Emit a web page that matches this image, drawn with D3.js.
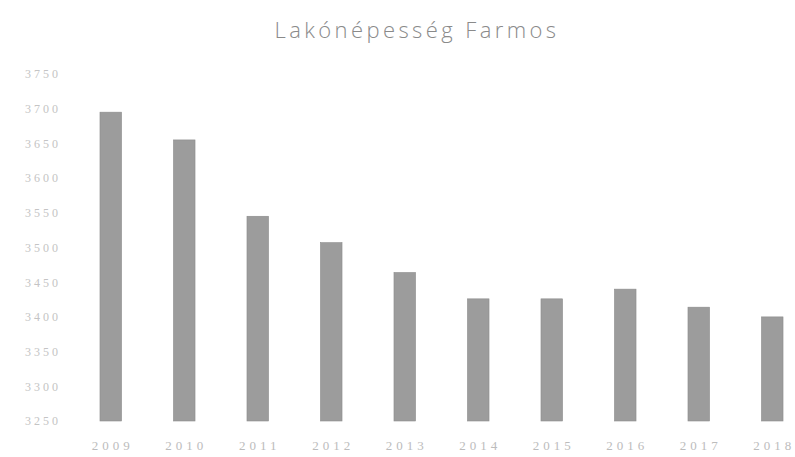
<!DOCTYPE html>
<html>
<head>
<meta charset="utf-8">
<script src="https://cdn.jsdelivr.net/npm/d3@7"></script>
<style>
  body { margin: 0; background: #fff; }
  svg { display: block; }
</style>
</head>
<body>
<svg></svg>
<script>
var screen = {width: 795, height: 457}
var margins = {top: 74, bottom: 36, left: 74}

// data
var years = ["2009", "2010", "2011", "2012", "2013", "2014", "2015", "2016", "2017", "2018"]
var population = [3695, 3655, 3545, 3507, 3464, 3426, 3426, 3440, 3414, 3400]
var yTicks = [3250, 3300, 3350, 3400, 3450, 3500, 3550, 3600, 3650, 3700, 3750]
var title = "Lakónépesség Farmos"

var svg = d3.select("svg")
    .attr("width", screen.width)
    .attr("height", screen.height)

var xScale = d3.scaleBand()
    .domain(years)
    .range([74, 809])
    .paddingInner(0.707)
    .paddingOuter(0.3535)

var yScale = d3.scaleLinear()
    .domain([3250, 3750])
    .range([screen.height - margins.bottom, margins.top])

// title
svg.append("text")
    .attr("x", 417)
    .attr("y", 38)
    .attr("text-anchor", "middle")
    .style("font-family", "'Open Sans', 'DejaVu Sans', sans-serif")
    .style("font-size", "22px")
    .style("font-weight", "300")
    .style("fill", "#8a8a8a")
    .style("letter-spacing", "3.4px")
    .text(title)

// y axis (labels only)
var yAxis = d3.axisLeft(yScale)
    .tickValues(yTicks)
    .tickFormat(d3.format("d"))
    .tickSize(0)
    .tickPadding(0)

svg.append("g")
    .attr("id", "yAxis")
    .attr("transform", "translate(61,0)")
    .call(yAxis)
    .call(function(g){ g.select(".domain").remove() })
    .selectAll("text")
    .style("font-family", "'Liberation Serif', serif")
    .style("font-size", "12px")
    .style("letter-spacing", "3px")
    .style("fill", "#c4c4c4")

// x axis (labels only)
var xAxis = d3.axisBottom(xScale)
    .tickSize(0)
    .tickPadding(0)

svg.append("g")
    .attr("id", "xAxis")
    .attr("transform", "translate(2," + (screen.height - margins.bottom + 20) + ")")
    .call(xAxis)
    .call(function(g){ g.select(".domain").remove() })
    .selectAll("text")
    .style("font-family", "'Liberation Serif', serif")
    .style("font-size", "13px")
    .style("letter-spacing", "4px")
    .style("fill", "#bcbcbc")

// bars
svg.append("g")
    .attr("id", "bars")
    .selectAll("rect")
    .data(population)
    .enter()
    .append("rect")
    .attr("x", function(d, i){ return xScale(years[i]) })
    .attr("width", xScale.bandwidth())
    .attr("y", function(d){ return yScale(d) })
    .attr("height", function(d){ return yScale(3250) - yScale(d) })
    .attr("fill", "#9c9c9c")
    .attr("stroke", "#8c8c8c")
    .attr("stroke-width", 0.6)
</script>
</body>
</html>
